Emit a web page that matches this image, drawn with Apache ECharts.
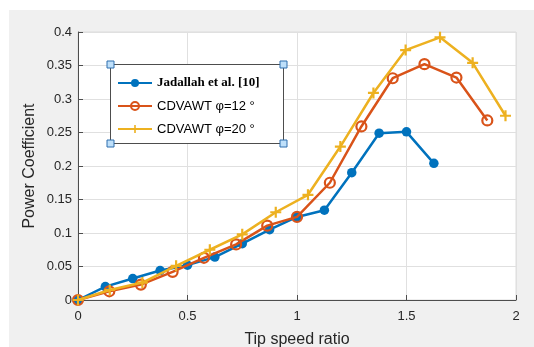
<!DOCTYPE html>
<html>
<head>
<meta charset="utf-8">
<script src="https://cdn.jsdelivr.net/npm/echarts@6/dist/echarts.min.js"></script>
<style>
  html, body { margin: 0; padding: 0; background: #ffffff; }
  #chart { width: 534px; height: 347px; }
</style>
</head>
<body>
<div id="chart"></div>
<script>
// Tip speed ratio vs power coefficient for three rotor configurations
const tsrJadallah = [0, 0.125, 0.25, 0.375, 0.5, 0.625, 0.75, 0.875, 1.0, 1.125, 1.25, 1.375, 1.5, 1.625];
const cpJadallah  = [0, 0.020, 0.032, 0.044, 0.052, 0.064, 0.084, 0.105, 0.124, 0.134, 0.190, 0.249, 0.251, 0.204];

const tsrPhi12 = [0, 0.143, 0.287, 0.432, 0.575, 0.722, 0.864, 1.0, 1.15, 1.294, 1.437, 1.582, 1.728, 1.869];
const cpPhi12  = [0, 0.013, 0.023, 0.042, 0.063, 0.083, 0.111, 0.124, 0.175, 0.259, 0.331, 0.352, 0.332, 0.268];

const tsrPhi20 = [0, 0.145, 0.294, 0.448, 0.602, 0.75, 0.903, 1.05, 1.198, 1.349, 1.496, 1.653, 1.802, 1.952];
const cpPhi20  = [0, 0.015, 0.026, 0.051, 0.075, 0.098, 0.131, 0.157, 0.229, 0.309, 0.373, 0.392, 0.354, 0.275];

const seriesNames = ['Jadallah et al. [10]', 'CDVAWT \u03C6=12 \u00B0', 'CDVAWT \u03C6=20 \u00B0'];
const xTicks = { min: 0, max: 2, step: 0.5 };
const yTicks = { min: 0, max: 0.4, step: 0.05 };

const pairs = (xs, ys) => xs.map((x, i) => [x, ys[i]]);

const BLUE = '#0072BD', ORANGE = '#D95319', YELLOW = '#EDB120';
const plusPath = 'path://M4,0 L6,0 L6,4 L10,4 L10,6 L6,6 L6,10 L4,10 L4,6 L0,6 L0,4 L4,4 Z';
const SANS = 'Liberation Sans, Arial, sans-serif';

const chart = echarts.init(document.getElementById('chart'), null, { renderer: 'canvas' });

// legend frame with selection handles at the corners
const box = { x: 110.5, y: 64.5, w: 173, h: 79 };
const handle = (cx, cy) => ({
  type: 'rect', z: 12,
  shape: { x: cx - 3.5, y: cy - 3.5, width: 7, height: 7 },
  style: { fill: '#bfe0fa', stroke: '#2f6fae', lineWidth: 1 }
});

chart.setOption({
  backgroundColor: '#ffffff',
  animation: false,
  graphic: [
    { type: 'rect', z: -10, silent: true,
      shape: { x: 9, y: 10, width: 525, height: 337 },
      style: { fill: '#f0f0f0' } },
    { type: 'rect', z: 5,
      shape: { x: box.x, y: box.y, width: box.w, height: box.h },
      style: { fill: '#ffffff', stroke: '#4d4d4d', lineWidth: 1 } },
    handle(box.x, box.y), handle(box.x + box.w, box.y),
    handle(box.x, box.y + box.h), handle(box.x + box.w, box.y + box.h)
  ],
  grid: {
    left: 78, right: 18, top: 32, bottom: 47,
    outerBoundsMode: 'none',
    show: true, backgroundColor: '#ffffff', borderColor: '#dcdcdc', borderWidth: 1
  },
  legend: {
    orient: 'vertical', left: 112, top: 71, z: 10,
    itemWidth: 34, itemHeight: 10, itemGap: 9,
    data: seriesNames,
    formatter: name => name === seriesNames[0] ? '{b|' + name + '}' : '{s|' + name + '}',
    textStyle: {
      lineHeight: 14,
      rich: {
        b: { fontFamily: 'Liberation Serif, Times New Roman, serif', fontWeight: 'bold', fontSize: 13, lineHeight: 14, color: '#000' },
        s: { fontFamily: SANS, fontSize: 13, lineHeight: 14, color: '#000' }
      }
    }
  },
  xAxis: {
    type: 'value', min: xTicks.min, max: xTicks.max, interval: xTicks.step,
    name: 'Tip speed ratio', nameLocation: 'middle', nameGap: 32, nameMoveOverlap: false,
    nameTextStyle: { fontFamily: SANS, fontSize: 16, color: '#262626' },
    axisLine: { show: true, lineStyle: { color: '#4d4d4d', width: 1 } },
    axisTick: { show: true, inside: true, length: 5, lineStyle: { color: '#4d4d4d' } },
    axisLabel: { margin: 10, fontFamily: SANS, fontSize: 13, color: '#262626' },
    splitLine: { show: true, lineStyle: { color: '#e0e0e0', width: 1 } }
  },
  yAxis: {
    type: 'value', min: yTicks.min, max: yTicks.max, interval: yTicks.step,
    name: 'Power Coefficient', nameLocation: 'middle', nameGap: 40, nameMoveOverlap: false,
    nameTextStyle: { fontFamily: SANS, fontSize: 16, color: '#262626' },
    axisLine: { show: true, lineStyle: { color: '#4d4d4d', width: 1 } },
    axisTick: { show: true, inside: true, length: 5, lineStyle: { color: '#4d4d4d' } },
    axisLabel: { margin: 6, fontFamily: SANS, fontSize: 13, color: '#262626' },
    splitLine: { show: true, lineStyle: { color: '#e0e0e0', width: 1 } }
  },
  series: [
    {
      name: seriesNames[0], type: 'line', data: pairs(tsrJadallah, cpJadallah),
      symbol: 'circle', symbolSize: 9.5, z: 2,
      lineStyle: { color: BLUE, width: 2.5 },
      itemStyle: { color: BLUE }
    },
    {
      name: seriesNames[1], type: 'line', data: pairs(tsrPhi12, cpPhi12),
      symbol: 'circle', symbolSize: 10, z: 3,
      lineStyle: { color: ORANGE, width: 2.5 },
      itemStyle: { color: 'rgba(255,255,255,0)', borderColor: ORANGE, borderWidth: 2.2 }
    },
    {
      name: seriesNames[2], type: 'line', data: pairs(tsrPhi20, cpPhi20),
      symbol: plusPath, symbolSize: 11, z: 4,
      lineStyle: { color: YELLOW, width: 2.5 },
      itemStyle: { color: YELLOW }
    }
  ]
});
</script>
</body>
</html>
